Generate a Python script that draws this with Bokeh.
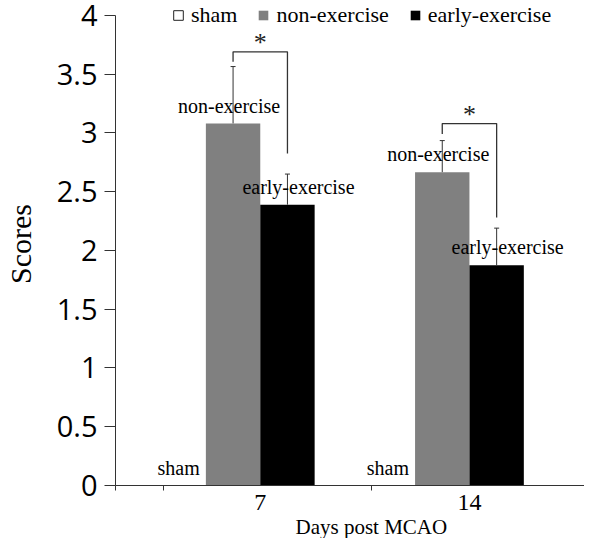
from bokeh.plotting import figure
from bokeh.models import (ColumnDataSource, Range1d, FixedTicker, Whisker, TeeHead,
                          LabelSet, Title)
from bokeh.embed import file_html
from bokeh.resources import INLINE

# ---- data ----
days = ["7", "14"]
day_pos = [1, 2]
series = ["sham", "non-exercise", "early-exercise"]
sham = [0.0, 0.0]
non_exercise = [3.08, 2.665]
early_exercise = [2.39, 1.875]
non_exercise_err = [0.485, 0.27]
early_exercise_err = [0.26, 0.315]
# significance brackets: top level, left-leg bottom, right-leg bottom
sig_top = [3.69, 3.08]
sig_left_bottom = [3.605, 2.99]
sig_right_bottom = [2.825, 2.28]
y_ticks = [0, 0.5, 1, 1.5, 2, 2.5, 3, 3.5, 4]
y_tick_labels = ["0", "0.5", "1", "1.5", "2", "2.5", "3", "3.5", "4"]

W = 0.26  # bar width (data units)
colors = {"sham": "white", "non-exercise": "#808080", "early-exercise": "#000000"}
offsets = {"sham": -1.5 * W, "non-exercise": -0.5 * W, "early-exercise": 0.5 * W}
label_dx = {"sham": 0, "non-exercise": -4, "early-exercise": 11}
values = {"sham": sham, "non-exercise": non_exercise, "early-exercise": early_exercise}
errs = {"non-exercise": non_exercise_err, "early-exercise": early_exercise_err}

p = figure(width=584, height=538, output_backend="svg", toolbar_location=None,
           x_range=Range1d(0.308, 2.55), y_range=Range1d(0, 4.11),
           min_border_left=111, min_border_right=0, min_border_top=2,
           min_border_bottom=52)
p.outline_line_color = None
p.xgrid.visible = False
p.ygrid.visible = False

SERIF = "Liberation Serif"
line_col = "#333333"

sources = {}
for s in series:
    xs = [d + offsets[s] for d in day_pos]
    src = ColumnDataSource(dict(x=xs, top=values[s], label=[s] * len(xs)))
    sources[s] = src
    if s == "sham":
        p.vbar(x="x", top="top", width=W, source=src, fill_color="white",
               line_color="#222222", line_width=1, legend_label=s)
    else:
        p.vbar(x="x", top="top", width=W, source=src, fill_color=colors[s],
               line_color=None, legend_label=s)

# error bars (upper only)
for s in ["non-exercise", "early-exercise"]:
    xs = [d + offsets[s] for d in day_pos]
    up = [v + e for v, e in zip(values[s], errs[s])]
    esrc = ColumnDataSource(dict(x=xs, lower=values[s], upper=up))
    p.add_layout(Whisker(base="x", lower="lower", upper="upper", source=esrc,
                         line_color=line_col, line_width=1,
                         upper_head=TeeHead(size=5, line_color=line_col, line_width=1),
                         lower_head=None))

# bar labels
for s in series:
    p.add_layout(LabelSet(x="x", y="top", text="label", source=sources[s],
                          x_offset=label_dx[s], y_offset=11, text_align="center",
                          text_baseline="alphabetic", text_font=SERIF,
                          text_font_size="20px", text_color="black"))

# significance brackets
xl = [d + offsets["non-exercise"] for d in day_pos]
xr = [d + offsets["early-exercise"] for d in day_pos]
bx = [[a, a, b, b] for a, b in zip(xl, xr)]
by = [[lb, t, t, rb] for lb, t, rb in zip(sig_left_bottom, sig_top, sig_right_bottom)]
p.multi_line(xs=bx, ys=by, line_color=line_col, line_width=1.3)
star_src = ColumnDataSource(dict(x=[(a + b) / 2 for a, b in zip(xl, xr)], y=sig_top,
                                 t=["*"] * len(xl)))
p.add_layout(LabelSet(x="x", y="y", text="t", source=star_src, text_align="center",
                      text_baseline="alphabetic", y_offset=1, text_font=SERIF,
                      text_font_size="26px", text_color="#222222"))

# y axis
ya = p.yaxis[0]
ya.ticker = FixedTicker(ticks=y_ticks)
ya.bounds = (y_ticks[0], y_ticks[-1])
ya.major_label_overrides = {t: l for t, l in zip(y_ticks, y_tick_labels)}
ya.major_tick_out = 11
ya.major_tick_in = 0
ya.minor_tick_line_color = None
ya.major_label_standoff = 7
ya.major_label_text_font = "Open Sans"
ya.major_label_text_font_size = "29px"
ya.major_label_text_color = "black"
ya.axis_line_color = line_col
ya.major_tick_line_color = line_col
ya.axis_label = "Scores"
ya.axis_label_text_font = SERIF
ya.axis_label_text_font_size = "30px"
ya.axis_label_text_font_style = "normal"
ya.axis_label_text_color = "black"
ya.axis_label_standoff = 17

# x axis
xa = p.xaxis[0]
xa.ticker = FixedTicker(ticks=day_pos, minor_ticks=[0.3085, 0.536, 1.531, 2.549])
xa.major_label_overrides = {d: l for d, l in zip(day_pos, days)}
xa.major_tick_out = 0
xa.major_tick_in = 0
xa.major_tick_line_color = None
xa.minor_tick_out = 5
xa.minor_tick_in = 0
xa.minor_tick_line_color = line_col
xa.axis_line_color = line_col
xa.major_label_standoff = 4
xa.major_label_text_font = SERIF
xa.major_label_text_font_size = "24px"
xa.major_label_text_color = "black"

xt = Title(text="Days post MCAO", align="left", offset=180, text_font=SERIF,
           text_font_size="21px", text_font_style="normal", text_color="black",
           standoff=0)
p.add_layout(xt, "below")

# legend
lg = p.legend[0]
lg.orientation = "horizontal"
lg.location = (57, 457)
lg.glyph_width = 12
lg.glyph_height = 12
lg.label_standoff = 7
lg.spacing = 20
lg.padding = 0
lg.margin = 0
lg.border_line_color = None
lg.background_fill_alpha = 0
lg.label_text_font = SERIF
lg.label_text_font_size = "22px"
lg.label_text_color = "black"
lg.label_height = 12

open("out.html", "w").write(file_html(p, INLINE))
